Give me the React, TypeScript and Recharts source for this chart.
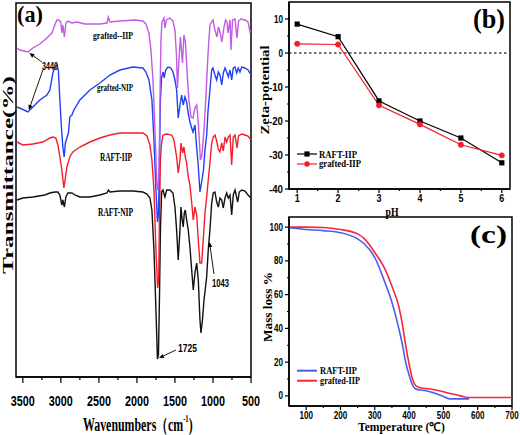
import React from 'react';
import { LineChart, Line, XAxis, YAxis, ReferenceArea, ReferenceLine } from 'recharts';

type Pt = [number, number];

// ---------- Panel (a): FTIR spectra [wavenumber cm-1, transmittance (arb., stacked)] ----------
const ftirGraftedIIP: Pt[] = [
  [3579, 329], [3539, 327], [3430, 325], [3368, 329], [3276, 333], [3184, 339], [3118, 344], [3079, 352],
  [3053, 357], [3026, 357], [3000, 355], [2987, 344], [2974, 352], [2954, 340], [2934, 354], [2908, 356],
  [2855, 354], [2789, 355], [2684, 353], [2487, 353], [2395, 354], [2375, 360], [2355, 355], [2224, 356],
  [2026, 357], [1921, 356], [1882, 353], [1842, 344], [1816, 327], [1789, 297], [1763, 247], [1737, 192],
  [1724, 187], [1710, 202], [1697, 277], [1684, 337], [1671, 355], [1645, 359], [1632, 349], [1612, 357],
  [1566, 359], [1526, 356], [1500, 347], [1480, 322], [1467, 289], [1447, 317], [1428, 340], [1401, 314],
  [1382, 342], [1362, 335], [1342, 307], [1316, 277], [1289, 260], [1263, 259], [1237, 269], [1214, 272],
  [1191, 252], [1165, 217], [1145, 222], [1118, 247], [1092, 282], [1066, 322], [1040, 352], [1000, 357],
  [974, 347], [947, 340], [928, 350], [908, 345], [882, 335], [855, 350], [835, 357], [816, 355],
  [803, 344], [776, 357], [763, 327], [743, 357], [710, 358], [684, 339], [664, 356], [632, 358],
  [579, 357], [539, 355], [513, 345], [500, 347],
];
const ftirGraftedNIP: Pt[] = [
  [3579, 270], [3513, 268], [3434, 265], [3368, 270], [3276, 277], [3184, 282], [3145, 287], [3105, 304],
  [3079, 310], [3053, 312], [3033, 307], [3013, 277], [2993, 250], [2974, 230], [2957, 220], [2941, 234],
  [2921, 239], [2901, 244], [2882, 260], [2855, 262], [2829, 267], [2750, 277], [2618, 287], [2487, 294],
  [2355, 302], [2224, 307], [2053, 310], [1921, 309], [1882, 305], [1842, 297], [1803, 277], [1776, 237],
  [1750, 187], [1730, 155], [1717, 162], [1704, 217], [1691, 277], [1675, 300], [1654, 305], [1641, 299],
  [1622, 307], [1592, 310], [1553, 309], [1526, 305], [1500, 297], [1478, 287], [1457, 259], [1434, 272],
  [1412, 282], [1391, 272], [1368, 280], [1346, 275], [1329, 265], [1303, 255], [1280, 249], [1263, 245],
  [1237, 252], [1214, 229], [1197, 215], [1171, 185], [1149, 195], [1125, 207], [1105, 227], [1083, 242],
  [1066, 265], [1046, 282], [1017, 307], [1000, 309], [974, 302], [951, 297], [930, 305], [908, 302],
  [885, 292], [864, 304], [842, 309], [820, 305], [799, 300], [776, 307], [754, 297], [733, 309],
  [710, 310], [688, 304], [667, 309], [645, 305], [622, 310], [579, 309], [539, 307], [500, 302],
];
const ftirRaftIIP: Pt[] = [
  [3579, 235], [3500, 232], [3368, 233], [3237, 235], [3145, 239], [3105, 240], [3066, 239], [3039, 232],
  [3013, 220], [2987, 207], [2960, 189], [2941, 199], [2921, 210], [2882, 220], [2842, 225], [2750, 230],
  [2618, 235], [2487, 239], [2355, 242], [2224, 244], [2053, 244], [1921, 244], [1868, 241], [1829, 232],
  [1803, 217], [1776, 187], [1750, 127], [1728, 89], [1714, 97], [1704, 157], [1691, 217], [1678, 232],
  [1658, 242], [1609, 243], [1543, 242], [1513, 237], [1478, 220], [1457, 204], [1434, 217], [1421, 234],
  [1399, 224], [1382, 230], [1364, 220], [1346, 214], [1325, 200], [1303, 192], [1283, 177], [1259, 157],
  [1237, 170], [1214, 162], [1193, 137], [1171, 114], [1149, 114], [1128, 137], [1105, 164], [1083, 180],
  [1062, 197], [1040, 214], [1017, 234], [996, 240], [974, 242], [951, 236], [930, 228], [908, 225],
  [885, 234], [864, 226], [842, 240], [820, 235], [799, 240], [776, 242], [754, 212], [733, 240],
  [710, 242], [684, 229], [664, 241], [622, 243], [579, 242], [539, 241], [500, 237],
];
const ftirRaftNIP: Pt[] = [
  [3579, 177], [3500, 179], [3368, 180], [3210, 182], [3145, 184], [3079, 185], [3039, 185], [3013, 182],
  [2987, 172], [2974, 177], [2954, 170], [2934, 180], [2908, 184], [2855, 184], [2816, 182], [2750, 180],
  [2618, 180], [2487, 182], [2395, 184], [2375, 187], [2355, 185], [2224, 186], [2053, 186], [1921, 185],
  [1868, 183], [1829, 179], [1803, 167], [1776, 127], [1750, 67], [1730, 18], [1717, 22], [1704, 77],
  [1691, 147], [1675, 185], [1658, 187], [1632, 180], [1609, 187], [1566, 187], [1526, 184], [1500, 170],
  [1478, 147], [1457, 117], [1434, 147], [1421, 170], [1405, 157], [1391, 150], [1377, 164], [1364, 167],
  [1346, 157], [1325, 147], [1303, 130], [1280, 107], [1259, 87], [1237, 104], [1214, 114], [1193, 97],
  [1171, 57], [1158, 44], [1138, 57], [1118, 77], [1083, 100], [1062, 127], [1040, 147], [1017, 174],
  [996, 184], [974, 185], [951, 175], [930, 170], [908, 179], [885, 177], [864, 169], [842, 179],
  [820, 184], [799, 179], [776, 182], [754, 162], [733, 182], [710, 187], [675, 175], [654, 185],
  [622, 187], [579, 186], [539, 182], [500, 179],
];
const ftirMajorTicks = [3500, 3000, 2500, 2000, 1500, 1000, 500];
const ftirMinorTicks = [3250, 2750, 2250, 1750, 1250, 750];
// annotation arrows [from, to] in data coordinates
const ftirArrows: [Pt, Pt][] = [
  [[3250, 315], [3414, 324]],
  [[3237, 307], [3421, 267]],
  [[1487, 27], [1710, 19]],
  [[987, 103], [1046, 135]],
];

// ---------- Panel (b): Zeta potential ----------
const zetaPH = [1, 2, 3, 4, 5, 6];
const zetaRaftIIP = [8.5, 4.8, -14.1, -20, -25, -32.3];
const zetaGraftedIIP = [2.7, 2.5, -15.4, -21, -27, -30.1];
const zetaYMajor = [-40, -30, -20, -10, 0, 10];
const zetaYMinor = [-35, -25, -15, -5, 5];
const zetaXMinor = [1.5, 2.5, 3.5, 4.5, 5.5];

// ---------- Panel (c): TGA ----------
const tgaRaftTemp = [50, 100, 150, 200, 250, 270, 300, 330, 350, 370, 380, 390, 400, 410, 420, 450, 480, 500, 520, 575];
const tgaRaftMass = [99.6, 98.6, 97.9, 96.7, 93, 90, 82, 67, 55.5, 40, 31, 20, 12.4, 6.5, 4, 3, 1.2, -0.3, -1.8, -1.8];
const tgaGraftTemp = [50, 100, 150, 200, 250, 270, 300, 330, 350, 370, 380, 390, 400, 410, 420, 430, 470, 500, 550, 570, 600, 700];
const tgaGraftMass = [100, 100, 99.8, 98.6, 96, 93, 85, 75, 65, 53, 43, 30, 19, 10, 6, 5, 3.8, 2.5, 0, -1, -1, -1];
const tgaXMajor = [100, 200, 300, 400, 500, 600, 700];
const tgaXMinor = [150, 250, 350, 450, 550, 650];
const tgaYMajor = [0, 20, 40, 60, 80, 100];
const tgaYMinor = [10, 30, 50, 70, 90];

const SERIF = "'Liberation Serif','Times New Roman',serif";
const SANS = "'Liberation Sans',Arial,sans-serif";

const ftirData = (pts: Pt[]) => pts.map(([w, t]) => ({ w, t }));
const zetaData = zetaPH.map((ph, i) => ({ ph, raft: zetaRaftIIP[i], grafted: zetaGraftedIIP[i] }));
const tgaRaft = tgaRaftTemp.map((t, i) => ({ t, m: tgaRaftMass[i] }));
const tgaGraft = tgaGraftTemp.map((t, i) => ({ t, m: tgaGraftMass[i] }));

const numWidth = (s: string, per: number, minus: number) =>
  s.split('').reduce((a, c) => a + (c === '-' ? minus : per), 0);

const ftirTick = (p: any) => {
  const v = p.payload.value;
  const major = ftirMajorTicks.includes(v);
  const s = String(v);
  return (
    <g>
      <line x1={p.x} x2={p.x} y1={p.y} y2={p.y + (major ? 6 : 3)} stroke="#000" strokeWidth={1.2} />
      {major && (
        <text x={p.x} y={p.y + 29} textAnchor="middle" fontFamily={SANS} fontWeight="bold" fontSize={15}
          textLength={numWidth(s, 6, 4)} lengthAdjust="spacingAndGlyphs" fill="#000">{s}</text>
      )}
    </g>
  );
};

const leftTick = (majors: number[]) => (p: any) => {
  const v = p.payload.value;
  const major = majors.includes(v);
  const s = String(v);
  return (
    <g>
      <line x1={p.x} x2={p.x - (major ? 4 : 2)} y1={p.y} y2={p.y} stroke="#000" strokeWidth={1.2} />
      {major && (
        <text x={p.x - 6} y={p.y + 3.6} textAnchor="end" fontFamily={SANS} fontWeight="bold" fontSize={10.5}
          textLength={numWidth(s, 4.5, 5)} lengthAdjust="spacingAndGlyphs" fill="#000">{s}</text>
      )}
    </g>
  );
};

const bottomTick = (isMajor: (v: number) => boolean, per: number) => (p: any) => {
  const v = p.payload.value;
  const major = isMajor(v);
  const s = String(v);
  return (
    <g>
      <line x1={p.x} x2={p.x} y1={p.y} y2={p.y + (major ? 4 : 2)} stroke="#000" strokeWidth={1.2} />
      {major && (
        <text x={p.x} y={p.y + 13} textAnchor="middle" fontFamily={SANS} fontWeight="bold" fontSize={10}
          textLength={numWidth(s, per, 5)} lengthAdjust="spacingAndGlyphs" fill="#000">{s}</text>
      )}
    </g>
  );
};

const arrowShape = (p: any) => {
  const { x1, y1, x2, y2 } = p;
  const ang = Math.atan2(y2 - y1, x2 - x1);
  const L = 5;
  const W = 2.2;
  const bx = x2 - L * Math.cos(ang);
  const by = y2 - L * Math.sin(ang);
  const nx = -Math.sin(ang) * W;
  const ny = Math.cos(ang) * W;
  return (
    <g>
      <line x1={x1} y1={y1} x2={bx} y2={by} stroke="#000" strokeWidth={0.9} />
      <polygon points={`${x2},${y2} ${bx + nx},${by + ny} ${bx - nx},${by - ny}`} fill="#000" />
    </g>
  );
};

const squareDot = (p: any) => (
  <rect key={`sq-${p.index}`} x={p.cx - 2.6} y={p.cy - 2.6} width={5.2} height={5.2} fill="#000" />
);

const abs: React.CSSProperties = { position: 'absolute', left: 0, top: 0 };

type TxtProps = {
  x: number; y: number; w?: number; size: number; anchor?: 'start' | 'middle' | 'end';
  font?: string; rot?: boolean; children: React.ReactNode;
};
const Txt = ({ x, y, w, size, anchor = 'start', font = SERIF, rot = false, children }: TxtProps) => {
  const common = {
    fontFamily: font, fontWeight: 'bold' as const, fontSize: size, fill: '#000',
    textAnchor: anchor, ...(w ? { textLength: w, lengthAdjust: 'spacingAndGlyphs' } : {}),
  };
  if (rot) {
    return <text transform={`translate(${x},${y}) rotate(-90)`} x={0} y={0} {...(common as any)}>{children}</text>;
  }
  return <text x={x} y={y} {...(common as any)}>{children}</text>;
};

const axisLine = { stroke: '#000', strokeWidth: 1.5 };

export default function App() {
  return (
    <div style={{ ...abs, width: 520, height: 435, background: '#fff', overflow: 'hidden' }}>
      {/* Panel (a) */}
      <div style={abs}>
        <LineChart width={520} height={435} margin={{ top: 3, left: 16, right: 269, bottom: 57 }}>
          <XAxis dataKey="w" type="number" domain={[500, 3590]} reversed allowDataOverflow
            ticks={[...ftirMajorTicks, ...ftirMinorTicks]} interval={0} tickSize={0} tickMargin={0}
            tickLine={false} axisLine={axisLine} height={1} tick={ftirTick} />
          <YAxis hide type="number" domain={[0, 374]} allowDataOverflow />
          <ReferenceArea x1={500} x2={3590} y1={0} y2={374} fill="none" stroke="#000" strokeWidth={1.5} fillOpacity={0} ifOverflow="visible" />
          <Line data={ftirData(ftirRaftNIP)} dataKey="t" stroke="#111" strokeWidth={1.4} dot={false} isAnimationActive={false} />
          <Line data={ftirData(ftirRaftIIP)} dataKey="t" stroke="#f41d2c" strokeWidth={1.4} dot={false} isAnimationActive={false} />
          <Line data={ftirData(ftirGraftedNIP)} dataKey="t" stroke="#2040f4" strokeWidth={1.4} dot={false} isAnimationActive={false} />
          <Line data={ftirData(ftirGraftedIIP)} dataKey="t" stroke="#c25ae6" strokeWidth={1.4} dot={false} isAnimationActive={false} />
          {ftirArrows.map(([a, b], i) => (
            <ReferenceLine key={`arr-${i}`} segment={[{ x: a[0], y: a[1] }, { x: b[0], y: b[1] }]} shape={arrowShape} ifOverflow="visible" />
          ))}
        </LineChart>
      </div>

      {/* Panel (b) */}
      <div style={abs}>
        <LineChart width={520} height={435} data={zetaData} margin={{ top: 2, left: 288, right: 10, bottom: 245 }}>
          <XAxis dataKey="ph" type="number" domain={[0.8, 6.2]} allowDataOverflow
            ticks={[...zetaPH, ...zetaXMinor]} interval={0} tickSize={0} tickMargin={0} tickLine={false}
            axisLine={axisLine} height={1} tick={bottomTick((v) => Number.isInteger(v), 5)} />
          <YAxis type="number" domain={[-40, 15]} allowDataOverflow width={1}
            ticks={[...zetaYMajor, ...zetaYMinor]} interval={0} tickSize={0} tickMargin={0} tickLine={false}
            axisLine={axisLine} tick={leftTick(zetaYMajor)} />
          <ReferenceArea x1={0.8} x2={6.2} y1={-40} y2={15} fill="none" fillOpacity={0} stroke="#000" strokeWidth={1.5} ifOverflow="visible" />
          <ReferenceLine y={0} stroke="#444" strokeWidth={1.5} strokeDasharray="2.5 2.5" />
          <Line dataKey="raft" stroke="#000" strokeWidth={1.2} dot={squareDot} isAnimationActive={false} />
          <Line dataKey="grafted" stroke="#f41d2c" strokeWidth={1.2} dot={{ r: 2.7, fill: '#f41d2c', stroke: '#f41d2c', strokeWidth: 0.5 }} isAnimationActive={false} />
        </LineChart>
      </div>

      {/* Panel (c) */}
      <div style={abs}>
        <LineChart width={520} height={435} margin={{ top: 217, left: 288, right: 8, bottom: 28 }}>
          <XAxis dataKey="t" type="number" domain={[50, 700]} allowDataOverflow
            ticks={[...tgaXMajor, ...tgaXMinor]} interval={0} tickSize={0} tickMargin={0} tickLine={false}
            axisLine={axisLine} height={1} tick={bottomTick((v) => tgaXMajor.includes(v), 4.5)} />
          <YAxis type="number" domain={[-6, 106]} allowDataOverflow width={1}
            ticks={[...tgaYMajor, ...tgaYMinor]} interval={0} tickSize={0} tickMargin={0} tickLine={false}
            axisLine={axisLine} tick={leftTick(tgaYMajor)} />
          <ReferenceArea x1={50} x2={700} y1={-6} y2={106} fill="none" fillOpacity={0} stroke="#000" strokeWidth={1.5} ifOverflow="visible" />
          <Line data={tgaRaft} dataKey="m" type="monotone" stroke="#4a5cf0" strokeWidth={1.6} dot={false} isAnimationActive={false} />
          <Line data={tgaGraft} dataKey="m" type="monotone" stroke="#f4283a" strokeWidth={1.6} dot={false} isAnimationActive={false} />
        </LineChart>
      </div>

      {/* Texts, legends */}
      <svg width={520} height={435} style={{ ...abs, pointerEvents: 'none' }}>
        {/* panel (a) */}
        <Txt x={17} y={22} size={24} w={26}>(a)</Txt>
        <Txt x={93} y={38.5} size={11} w={40}>grafted--IIP</Txt>
        <Txt x={97} y={91} size={11} w={36}>grafted-NIP</Txt>
        <Txt x={100} y={161} size={11.5} w={32}>RAFT-IIP</Txt>
        <Txt x={98} y={216} size={11.5} w={35}>RAFT-NIP</Txt>
        <Txt x={42} y={69.5} size={10.5} w={16} font={SANS}>3440</Txt>
        <Txt x={178} y={352} size={11} w={19} font={SANS}>1725</Txt>
        <Txt x={212} y={287} size={11} w={17} font={SANS}>1043</Txt>
        <text transform="translate(83,431) scale(0.66,1)" x={0} y={0} fontFamily={SERIF} fontWeight="bold" fontSize={18} fill="#000">
          Wavenumbers（cm<tspan dy={-9} fontSize={10}>-1</tspan><tspan dy={9}>)</tspan>
        </text>
        <Txt x={13} y={175} size={15} w={198} anchor="middle" rot>Transmittance(%)</Txt>

        {/* panel (b) */}
        <Txt x={473} y={28} size={28} w={32}>(b)</Txt>
        <Txt x={392} y={216} size={12} w={13} anchor="middle">pH</Txt>
        <Txt x={269} y={90} size={12} w={89} anchor="middle" rot>Zeta-potential</Txt>
        <line x1={297} x2={317} y1={154} y2={154} stroke="#000" strokeWidth={1.2} />
        <rect x={304.4} y={151.4} width={5.2} height={5.2} fill="#000" />
        <Txt x={319} y={157.5} size={10} w={38}>RAFT-IIP</Txt>
        <line x1={297} x2={317} y1={164} y2={164} stroke="#f41d2c" strokeWidth={1.2} />
        <circle cx={307} cy={164} r={2.7} fill="#f41d2c" />
        <Txt x={319} y={167} size={10} w={42}>grafted-IIP</Txt>

        {/* panel (c) */}
        <Txt x={470} y={243} size={26} w={37}>(c)</Txt>
        <Txt x={358} y={431} size={12} w={87}>Temperature (℃)</Txt>
        <Txt x={272} y={307} size={12.5} w={70} anchor="middle" rot>Mass loss %</Txt>
        <line x1={297} x2={317} y1={370.7} y2={370.7} stroke="#4a5cf0" strokeWidth={2} />
        <Txt x={320} y={374} size={10.5} w={37}>RAFT-IIP</Txt>
        <line x1={297} x2={317} y1={380.7} y2={380.7} stroke="#f4283a" strokeWidth={2} />
        <Txt x={320} y={383.5} size={10.5} w={40}>grafted-IIP</Txt>
      </svg>
    </div>
  );
}
